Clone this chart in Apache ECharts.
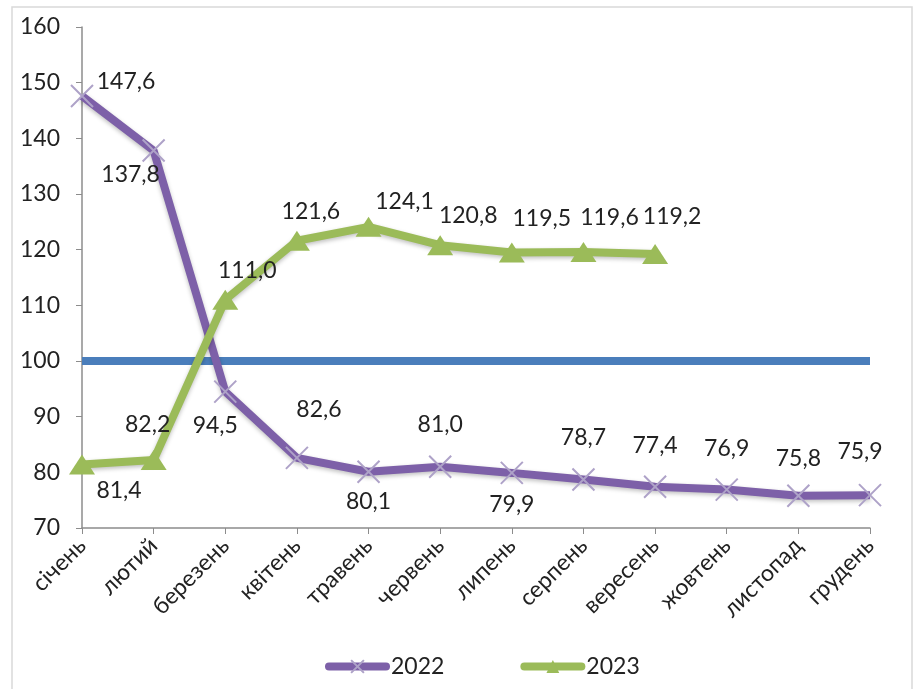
<!DOCTYPE html>
<html><head><meta charset="utf-8">
<script src="https://cdn.jsdelivr.net/npm/echarts@6/dist/echarts.min.js"></script>
<style>html,body{margin:0;padding:0;background:#fff}#c{width:914px;height:689px}</style>
</head><body><div id="c"></div>
<script>
var months = ['січень','лютий','березень','квітень','травень','червень','липень','серпень','вересень','жовтень','листопад','грудень'];
var values2022 = [147.6,137.8,94.5,82.6,80.1,81.0,79.9,78.7,77.4,76.9,75.8,75.9];
var values2023 = [81.4,82.2,111.0,121.6,124.1,120.8,119.5,119.6,119.2];
var baseline = [100,100,100,100,100,100,100,100,100,100,100,100];
var yTicks = {min:70, max:160, interval:10};

// label offsets [dx, dy] relative to point (style only)
var off2022 = [[44,-14],[-23,24],[-10,34],[22,-48],[0,30],[0,-42],[0,32],[0,-42],[0,-41],[0,-41],[0,-37],[-10,-44]];
var off2023 = [[37,26],[-6,-36],[22,-29],[14,-29],[36,-25],[28,-30],[30,-34],[26,-34],[17,-38]];

function fmt(v){return v.toFixed(1).replace('.',',');}
function mk(vals, offs){
  return vals.map(function(v,i){
    return {value:v, label:{show:true, position:'inside', offset:offs[i], formatter:fmt(v)}};
  });
}
var font = 'Lato, "Open Sans", sans-serif';
var crossPath = 'path://M0,0L10,10M10,0L0,10';
var chart = echarts.init(document.getElementById('c'));
chart.setOption({
  animation:false,
  graphic:[{type:'rect', shape:{x:12,y:7,width:900,height:690}, style:{fill:'none', stroke:'#d9d9d9', lineWidth:1.5}}],
  grid:{left:82, right:44, top:27, bottom:161},
  legend:{top:650, left:320, itemWidth:57, itemHeight:16, itemGap:76,
    textStyle:{fontFamily:font, fontSize:23, color:'#222'},
    lineStyle:{width:8, cap:'round'},
    data:['2022','2023']},
  xAxis:{type:'category', data:months, boundaryGap:false,
    axisLine:{lineStyle:{color:'#8c8c8c', width:1.5}},
    axisTick:{show:true, length:6, lineStyle:{color:'#8c8c8c'}},
    axisLabel:{rotate:45, fontFamily:font, fontSize:23, color:'#222', margin:14, interval:0}},
  yAxis:{type:'value', min:yTicks.min, max:yTicks.max, interval:yTicks.interval,
    axisLine:{show:true, lineStyle:{color:'#8c8c8c', width:1.5}},
    axisTick:{show:true, length:6, lineStyle:{color:'#8c8c8c'}},
    splitLine:{show:false},
    axisLabel:{fontFamily:font, fontSize:23, color:'#222', margin:22}},
  series:[
    {name:'base', type:'line', data:baseline, symbol:'none', silent:true,
      lineStyle:{color:'#4a7ebb', width:8}, z:1},
    {name:'2022', type:'line', data:mk(values2022, off2022),
      symbol:crossPath, symbolSize:22,
      itemStyle:{color:'#7d60a8', borderColor:'#aea2c8', borderWidth:2},
      lineStyle:{color:'#7d60a8', width:8, shadowColor:'rgba(0,0,0,0.25)', shadowBlur:4, shadowOffsetY:2},
      label:{fontFamily:font, fontSize:23, color:'#222'}, z:3},
    {name:'2023', type:'line', data:mk(values2023, off2023),
      symbol:'triangle', symbolSize:[26,20],
      itemStyle:{color:'#9bbb59'},
      lineStyle:{color:'#9bbb59', width:8, shadowColor:'rgba(0,0,0,0.25)', shadowBlur:4, shadowOffsetY:2},
      label:{fontFamily:font, fontSize:23, color:'#222'}, z:4}
  ]
});
</script></body></html>
